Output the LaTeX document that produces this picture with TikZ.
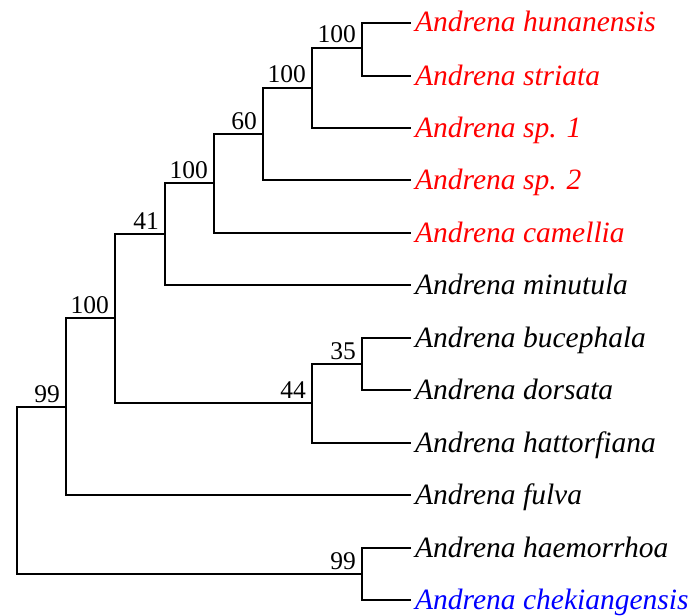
\documentclass[tikz,border=0pt]{standalone}
\usepackage{fontspec}
\setmainfont{Liberation Serif}
\definecolor{sred}{RGB}{255,0,0}
\definecolor{sblue}{RGB}{0,0,255}
\begin{document}
\begin{tikzpicture}[x=1pt,y=-1pt,
  branch/.style={draw=black,line width=1.4pt},
  taxon/.style={anchor=base west,inner sep=0pt,font=\fontsize{29.5}{34}\selectfont\itshape},
  boot/.style={anchor=base east,inner sep=0pt,font=\fontsize{25.5}{30}\selectfont}]
\useasboundingbox (0,0) rectangle (692,615);
% leaves
\foreach \n/\y in {1/23,2/76,3/128,4/180,5/233,6/285,7/338,8/390,9/443,10/495,11/548,12/600}
  \coordinate (l\n) at (411,\y);
\node[taxon,text=sred] (t1) at (415,32) {Andrena hunanensis};
\node[taxon,text=sred] (t2) at (415,85) {Andrena striata};
\node[taxon,text=sred] (t3) at (415,137) {Andrena sp. 1};
\node[taxon,text=sred] (t4) at (415,189) {Andrena sp. 2};
\node[taxon,text=sred] (t5) at (415,242) {Andrena camellia};
\node[taxon] (t6) at (415,294) {Andrena minutula};
\node[taxon] (t7) at (415,347) {Andrena bucephala};
\node[taxon] (t8) at (415,399) {Andrena dorsata};
\node[taxon] (t9) at (415,452) {Andrena hattorfiana};
\node[taxon] (t10) at (415,504) {Andrena fulva};
\node[taxon] (t11) at (415,557) {Andrena haemorrhoa};
\node[taxon,text=sblue] (t12) at (415,609) {Andrena chekiangensis};
% internal nodes
\coordinate (n1) at (362,48);
\coordinate (n2) at (312,88);
\coordinate (n3) at (263,134);
\coordinate (n4) at (214,183);
\coordinate (n5) at (165,234);
\coordinate (n6) at (362,364);
\coordinate (n7) at (312,403);
\coordinate (n8) at (115,318);
\coordinate (n9) at (66,407);
\coordinate (n10) at (362,574);
\coordinate (root) at (17,490);
% branches
\draw[branch] (l1) -| (n1) |- (l2);
\draw[branch] (n1) -| (n2) |- (l3);
\draw[branch] (n2) -| (n3) |- (l4);
\draw[branch] (n3) -| (n4) |- (l5);
\draw[branch] (n4) -| (n5) |- (l6);
\draw[branch] (l7) -| (n6) |- (l8);
\draw[branch] (n6) -| (n7) |- (l9);
\draw[branch] (n5) -| (n8) |- (n7);
\draw[branch] (n8) -| (n9) |- (l10);
\draw[branch] (l11) -| (n10) |- (l12);
\draw[branch] (n9) -| (root) |- (n10);
% bootstrap values
\node[boot] (b1) at ([shift={(-6,-5)}]n1) {100};
\node[boot] (b2) at ([shift={(-6,-5)}]n2) {100};
\node[boot] (b3) at ([shift={(-6,-5)}]n3) {60};
\node[boot] (b4) at ([shift={(-6,-5)}]n4) {100};
\node[boot] (b5) at ([shift={(-6,-5)}]n5) {41};
\node[boot] (b6) at ([shift={(-6,-5)}]n6) {35};
\node[boot] (b7) at ([shift={(-6,-5)}]n7) {44};
\node[boot] (b8) at ([shift={(-6,-5)}]n8) {100};
\node[boot] (b9) at ([shift={(-6,-5)}]n9) {99};
\node[boot] (b10) at ([shift={(-6,-5)}]n10) {99};
\end{tikzpicture}
\end{document}
